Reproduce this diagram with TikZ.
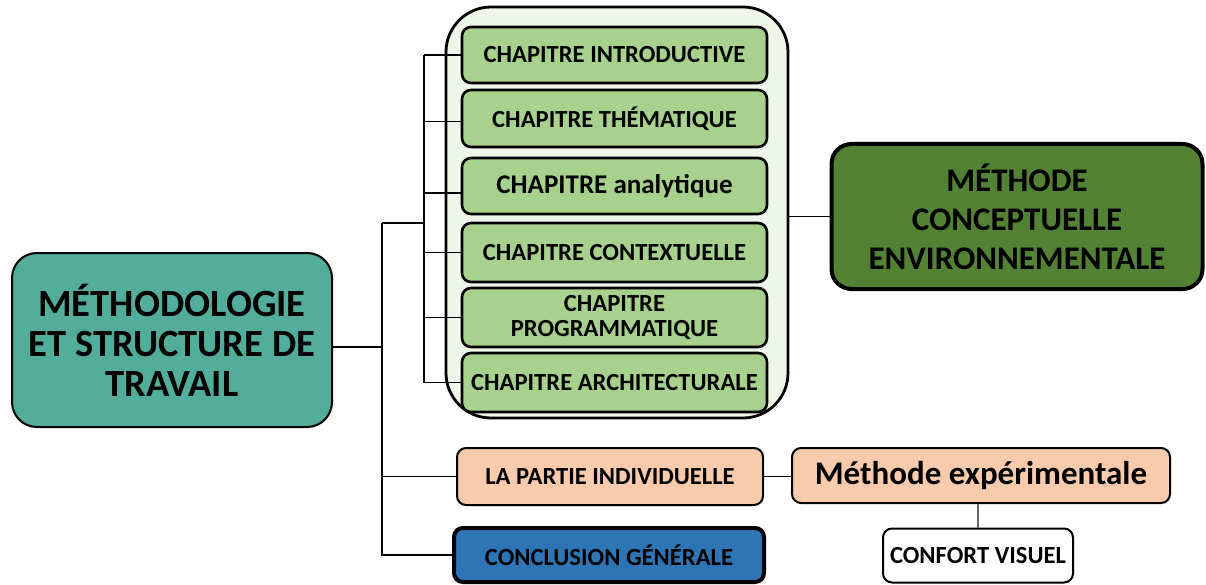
\documentclass[tikz,border=0pt]{standalone}
\usepackage{fontspec}
\setmainfont{Carlito}
\begin{document}
\begin{tikzpicture}[x=1pt,y=-1pt,
  box/.style={draw=black, rounded corners=9pt, inner sep=0pt, align=center,
    font=\bfseries\fontsize{24.6}{25}\selectfont},
  chap/.style={box, fill=chapgreen, line width=2.6pt, minimum width=305pt},
  wire/.style={draw=black, line width=1.2pt}
]
\definecolor{teal}{HTML}{52AE9B}
\definecolor{chapgreen}{HTML}{A9D18E}
\definecolor{palegreen}{HTML}{EEF5E9}
\definecolor{darkgreen}{HTML}{548235}
\definecolor{peach}{HTML}{F8CBAD}
\definecolor{blueconc}{HTML}{2E75B6}
\useasboundingbox (0,0) rectangle (1206,585);

% main title box
\node[box, fill=teal, line width=2pt, rounded corners=25pt,
  minimum width=320pt, minimum height=174pt,
  font=\bfseries\fontsize{38.5}{40}\selectfont] (main) at (172,340)
  {MÉTHODOLOGIE\\ET STRUCTURE DE\\TRAVAIL};

% group of chapters
\node[draw=black, fill=palegreen, line width=2.8pt, rounded corners=45pt,
  minimum width=342pt, minimum height=411pt, inner sep=0pt] (group) at (617,212.5) {};

\node[chap, minimum height=56pt] (c1) at (614.5,55) {CHAPITRE INTRODUCTIVE};
\node[chap, minimum height=57pt] (c2) at (614.5,118.5) {CHAPITRE THÉMATIQUE};
\node[chap, minimum height=56pt, font=\bfseries\fontsize{27}{28}\selectfont] (c3) at (614.5,186) {CHAPITRE analytique};
\node[chap, minimum height=59pt] (c4) at (614.5,252.5) {CHAPITRE CONTEXTUELLE};
\node[chap, minimum height=59pt] (c5) at (614.5,317.5) {CHAPITRE\\PROGRAMMATIQUE};
\node[chap, minimum height=59pt] (c6) at (614.5,382.5) {CHAPITRE ARCHITECTURALE};

% conceptual method
\node[box, fill=darkgreen, line width=4pt, rounded corners=20pt,
  minimum width=371pt, minimum height=145pt,
  font=\bfseries\fontsize{33}{39}\selectfont] (concept) at (1017,216.5)
  {MÉTHODE\\CONCEPTUELLE\\ENVIRONNEMENTALE};

% lower branch
\node[box, fill=peach, line width=2pt, minimum width=306pt, minimum height=57pt] (partie) at (610,476.5) {LA PARTIE INDIVIDUELLE};
\node[box, fill=peach, line width=2pt, minimum width=378pt, minimum height=55pt,
  font=\bfseries\fontsize{33}{36}\selectfont] (exper) at (981,475.5) {Méthode expérimentale};
\node[box, fill=blueconc, line width=4pt, minimum width=310pt, minimum height=54pt] (concl) at (609,555) {CONCLUSION GÉNÉRALE};
\node[box, fill=white, line width=2pt, minimum width=190pt, minimum height=54pt] (confort) at (978,555.5) {CONFORT VISUEL};

% connectors
\coordinate (btop) at (382,223);
\coordinate (bbot) at (382,555);
\coordinate (sbus) at (424,56);
\draw[wire] ([yshift=-7pt]main.east) -- ([yshift=-7pt]main.east -| btop);
\draw[wire] (btop) -- (bbot |- concl.west) -- (concl.west);
\draw[wire] (bbot |- partie.west) -- (partie.west);
\draw[wire] (btop) -- (btop -| sbus);
\draw[wire] (c1.west -| sbus) -- (c6.west -| sbus);
\foreach \c/\dy in {c1/0,c2/-3,c3/-7,c4/0,c5/0,c6/0}
  \draw[wire] ([yshift=\dy pt]\c.west -| sbus) -- ([yshift=\dy pt]\c.west);
\draw[wire] (concept.west -| group.east) -- (concept.west);
\draw[wire] (partie.east) -- (partie.east -| exper.west);
\draw[draw=black!60, line width=1.2pt] (confort.north) -- (confort.north |- exper.south);
\end{tikzpicture}
\end{document}
